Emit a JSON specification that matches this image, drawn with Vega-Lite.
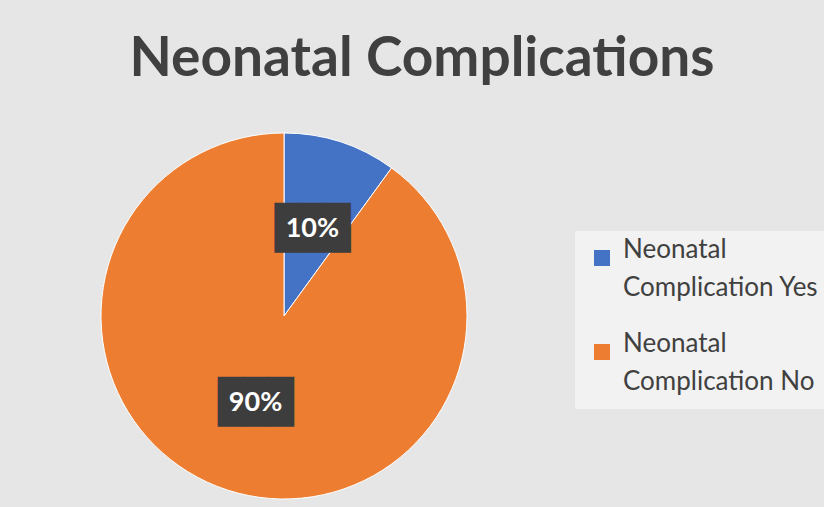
{
  "$schema": "https://vega.github.io/schema/vega-lite/v6.json",
  "width": 366,
  "height": 366,
  "autosize": {"type": "none"},
  "padding": {"left": 101, "top": 133, "right": 357, "bottom": 8},
  "background": "#e6e6e6",
  "title": {"text": "Neonatal Complications", "font": "Lato", "fontSize": 55, "fontWeight": "bold", "color": "#404040", "anchor": "middle", "dx": 138, "offset": 43},
  "data": {"values": [
    {"category": "Neonatal Complication Yes", "share": 0.1, "order": 1},
    {"category": "Neonatal Complication No", "share": 0.9, "order": 2}
  ]},
  "encoding": {
    "theta": {"field": "share", "type": "quantitative", "stack": true},
    "order": {"field": "order", "type": "quantitative"}
  },
  "layer": [
    {
      "mark": {"type": "arc", "outerRadius": 183, "stroke": "white", "strokeWidth": 1},
      "encoding": {
        "color": {"field": "category", "type": "nominal",
          "scale": {"domain": ["Neonatal Complication Yes", "Neonatal Complication No"], "range": ["#4472C4", "#ED7D31"]},
          "legend": {"title": null, "orient": "none", "legendX": 474, "legendY": 98,
            "symbolType": "square", "symbolSize": 256, "symbolStrokeWidth": 0, "symbolOpacity": 1,
            "labelFont": "Lato", "labelFontSize": 26, "labelColor": "#404040", "labelLimit": 300,
            "labelBaseline": "alphabetic", "labelOffset": 8, "rowPadding": 30,
            "labelExpr": "['Neonatal', replace(datum.label, 'Neonatal ', '')]",
            "encoding": {"labels": {"lineHeight": {"value": 38}}},
            "fillColor": "#f2f2f2", "padding": 14}
        }
      }
    },
    {
      "mark": {"type": "text", "radius": 92, "font": "DejaVu Sans Mono", "fontSize": 42, "color": "#3d3d3d", "baseline": "middle"},
      "encoding": {"text": {"value": "███"}}
    },
    {
      "mark": {"type": "text", "radius": 92, "font": "Lato", "fontSize": 27, "fontWeight": "bold", "color": "white", "baseline": "middle"},
      "encoding": {"text": {"field": "share", "type": "quantitative", "format": ".0%"}}
    }
  ]
}
